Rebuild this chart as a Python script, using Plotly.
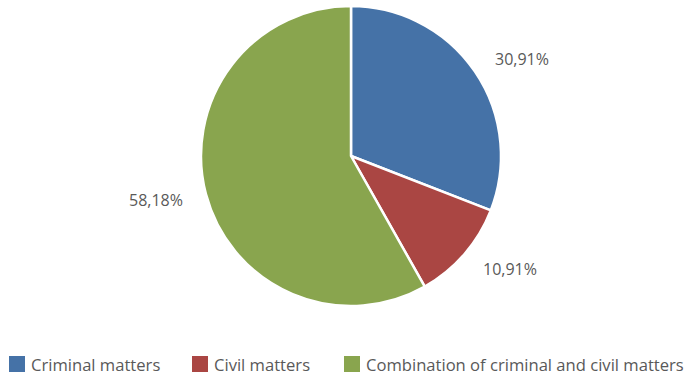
import math
import plotly.graph_objects as go

# Share of cases by type of matter
categories = ["Criminal matters", "Civil matters", "Combination of criminal and civil matters"]
shares = [30.91, 10.91, 58.18]
colors = ["#4572A7", "#AA4643", "#89A54E"]

W, H = 692, 375
TEXT_COLOR = "#595959"
FONT = "Open Sans, sans-serif"

# Pie placement in pixels
cx, cy, radius = 351, 156, 150
label_radius = 172

fig = go.Figure(
    go.Pie(
        labels=categories,
        values=shares,
        textinfo="none",
        sort=False,
        direction="clockwise",
        rotation=0,
        marker=dict(colors=colors, line=dict(color="white", width=2.5)),
        domain=dict(x=[(cx - radius) / W, (cx + radius) / W],
                    y=[1 - (cy + radius) / H, 1 - (cy - radius) / H]),
        hoverinfo="label+percent",
        showlegend=False,
    )
)

# Percentage labels placed outside each slice along its mid-angle
total = sum(shares)
start = 0.0
annotations = []
for v in shares:
    mid = (start + v / 2) / total * 2 * math.pi
    start += v
    dx = math.sin(mid) * label_radius
    dy = -math.cos(mid) * label_radius
    annotations.append(dict(
        x=(cx + dx) / W, y=1 - (cy + dy) / H, xref="paper", yref="paper",
        text=f"{v:.2f}%".replace(".", ","), showarrow=False,
        xanchor="left" if dx >= 0 else "right", yanchor="middle",
        font=dict(family=FONT, size=16, color=TEXT_COLOR),
    ))

# Legend row along the bottom with square swatches
legend_x = [9, 192, 344]
sw = 16
legend_cy = 364
shapes = []
for name, col, lx in zip(categories, colors, legend_x):
    shapes.append(dict(
        type="rect", xref="paper", yref="paper",
        x0=lx / W, x1=(lx + sw) / W,
        y0=1 - (legend_cy + sw / 2) / H, y1=1 - (legend_cy - sw / 2) / H,
        fillcolor=col, line=dict(width=0),
    ))
    annotations.append(dict(
        x=(lx + sw + 4) / W, y=1 - legend_cy / H, xref="paper", yref="paper",
        text=name, showarrow=False, xanchor="left", yanchor="middle",
        font=dict(family=FONT, size=16.6, color=TEXT_COLOR),
    ))

fig.update_layout(
    width=W,
    height=H,
    margin=dict(l=0, r=0, t=0, b=0),
    paper_bgcolor="white",
    plot_bgcolor="white",
    font=dict(family=FONT, color=TEXT_COLOR, size=16),
    annotations=annotations,
    shapes=shapes,
)

fig.write_html("out.html")
